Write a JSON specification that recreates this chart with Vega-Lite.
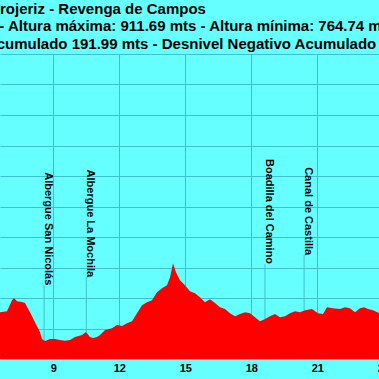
{
  "$schema": "https://vega.github.io/schema/vega-lite/v6.json",
  "width": 379,
  "height": 305,
  "autosize": {"type": "none"},
  "padding": {"left": 0, "top": 54, "right": 0, "bottom": 20},
  "background": "#66ffff",
  "config": {"view": {"stroke": null, "fill": "#66ffff"}, "font": "Liberation Sans"},
  "title": {
    "text": [
      "Castrojeriz - Revenga de Campos",
      "Distancia recorrida: 25.61 kms - Altura máxima: 911.69 mts - Altura mínima: 764.74 mts",
      "Media: 812.35 mts - Desnivel Positivo Acumulado 191.99 mts - Desnivel Negativo Acumulado 216.48 mts"
    ],
    "anchor": "middle",
    "frame": "group",
    "dx": -102.8,
    "offset": 2.5,
    "fontSize": 15,
    "fontWeight": "bold",
    "font": "Liberation Sans",
    "color": "#000000",
    "lineHeight": 17.5
  },
  "datasets": {
    "perfil": [
      {"km": 6.577, "altitud": 788.4},
      {"km": 6.895, "altitud": 789.2},
      {"km": 7.123, "altitud": 798.2},
      {"km": 7.214, "altitud": 800.1},
      {"km": 7.35, "altitud": 797.4},
      {"km": 7.577, "altitud": 796.8},
      {"km": 7.714, "altitud": 795.8},
      {"km": 7.941, "altitud": 788.4},
      {"km": 8.168, "altitud": 780.2},
      {"km": 8.395, "altitud": 772.1},
      {"km": 8.486, "altitud": 766.3},
      {"km": 8.623, "altitud": 764.7},
      {"km": 8.85, "altitud": 766.3},
      {"km": 9.077, "altitud": 766.3},
      {"km": 9.305, "altitud": 765.5},
      {"km": 9.532, "altitud": 764.9},
      {"km": 9.759, "altitud": 765.5},
      {"km": 9.986, "altitud": 768.0},
      {"km": 10.305, "altitud": 769.6},
      {"km": 10.486, "altitud": 772.1},
      {"km": 10.668, "altitud": 768.0},
      {"km": 10.805, "altitud": 767.2},
      {"km": 10.986, "altitud": 768.0},
      {"km": 11.123, "altitud": 769.6},
      {"km": 11.35, "altitud": 773.7},
      {"km": 11.668, "altitud": 775.3},
      {"km": 11.895, "altitud": 777.8},
      {"km": 12.123, "altitud": 777.0},
      {"km": 12.35, "altitud": 779.4},
      {"km": 12.577, "altitud": 781.0},
      {"km": 12.805, "altitud": 787.6},
      {"km": 13.032, "altitud": 794.1},
      {"km": 13.259, "altitud": 796.6},
      {"km": 13.486, "altitud": 798.2},
      {"km": 13.714, "altitud": 804.7},
      {"km": 13.941, "altitud": 808.0},
      {"km": 14.168, "altitud": 810.5},
      {"km": 14.305, "altitud": 817.0},
      {"km": 14.441, "altitud": 828.4},
      {"km": 14.577, "altitud": 821.1},
      {"km": 14.759, "altitud": 814.5},
      {"km": 14.986, "altitud": 810.5},
      {"km": 15.214, "altitud": 805.6},
      {"km": 15.441, "altitud": 803.9},
      {"km": 15.668, "altitud": 800.7},
      {"km": 15.895, "altitud": 796.6},
      {"km": 16.123, "altitud": 799.0},
      {"km": 16.35, "altitud": 795.8},
      {"km": 16.577, "altitud": 792.5},
      {"km": 16.805, "altitud": 790.9},
      {"km": 17.032, "altitud": 787.6},
      {"km": 17.259, "altitud": 785.1},
      {"km": 17.486, "altitud": 786.8},
      {"km": 17.714, "altitud": 788.4},
      {"km": 17.941, "altitud": 787.6},
      {"km": 18.168, "altitud": 784.3},
      {"km": 18.395, "altitud": 781.0},
      {"km": 18.623, "altitud": 782.7},
      {"km": 18.85, "altitud": 785.1},
      {"km": 19.077, "altitud": 786.8},
      {"km": 19.305, "altitud": 784.3},
      {"km": 19.532, "altitud": 785.1},
      {"km": 19.759, "altitud": 787.6},
      {"km": 19.986, "altitud": 789.2},
      {"km": 20.214, "altitud": 788.4},
      {"km": 20.441, "altitud": 790.0},
      {"km": 20.759, "altitud": 790.9},
      {"km": 21.032, "altitud": 787.6},
      {"km": 21.259, "altitud": 786.8},
      {"km": 21.441, "altitud": 792.5},
      {"km": 21.714, "altitud": 791.7},
      {"km": 22.032, "altitud": 790.9},
      {"km": 22.259, "altitud": 792.5},
      {"km": 22.486, "altitud": 791.7},
      {"km": 22.714, "altitud": 788.4},
      {"km": 22.941, "altitud": 791.7},
      {"km": 23.123, "altitud": 792.5},
      {"km": 23.305, "altitud": 790.9},
      {"km": 23.532, "altitud": 790.0},
      {"km": 23.805, "altitud": 787.6}
    ],
    "hitos": [
      {"km": 8.58, "altitud": 765.3, "nombre": "Albergue San Nicolás"},
      {"km": 10.5, "altitud": 772.0, "nombre": "Albergue La Mochila"},
      {"km": 18.62, "altitud": 782.7, "nombre": "Boadilla del Camino"},
      {"km": 20.4, "altitud": 790.0, "nombre": "Canal de Castilla"}
    ]
  },
  "encoding": {
    "x": {
      "field": "km",
      "type": "quantitative",
      "scale": {"domain": [6.577, 24.5], "range": [0, 394.3], "nice": false, "zero": false},
      "axis": {
        "values": [6, 9, 12, 15, 18, 21, 24],
        "grid": true,
        "gridColor": "#40c0d0",
        "gridWidth": 1,
        "domain": false,
        "ticks": false,
        "labelPadding": 3,
        "labelFontSize": 11,
        "labelFontWeight": "bold",
        "labelFont": "Liberation Sans",
        "labelColor": "#000000",
        "labelFlush": false,
        "labelOverlap": false,
        "title": null
      }
    },
    "y": {
      "field": "altitud",
      "type": "quantitative",
      "scale": {"domain": [750, 1000], "nice": false, "zero": false},
      "axis": {
        "values": [750, 775, 800, 825, 850, 875, 900, 925, 950, 975, 1000],
        "grid": true,
        "gridColor": "#40c0d0",
        "gridWidth": 1,
        "domain": false,
        "ticks": false,
        "labels": false,
        "title": null
      }
    }
  },
  "layer": [
    {
      "data": {"name": "hitos"},
      "mark": {"type": "rule", "color": "#40c0d0", "strokeWidth": 1, "y2Offset": -55},
      "encoding": {"y2": {"field": "altitud"}}
    },
    {
      "data": {"name": "perfil"},
      "mark": {"type": "area", "color": "#ff0000", "clip": true, "interpolate": "linear"}
    },
    {
      "data": {"name": "hitos"},
      "mark": {"type": "text", "angle": 90, "align": "right", "baseline": "alphabetic", "dx": -55, "dy": -1, "fontSize": 11, "fontWeight": "bold", "font": "Liberation Sans", "color": "#000000"},
      "encoding": {"text": {"field": "nombre"}}
    }
  ]
}
